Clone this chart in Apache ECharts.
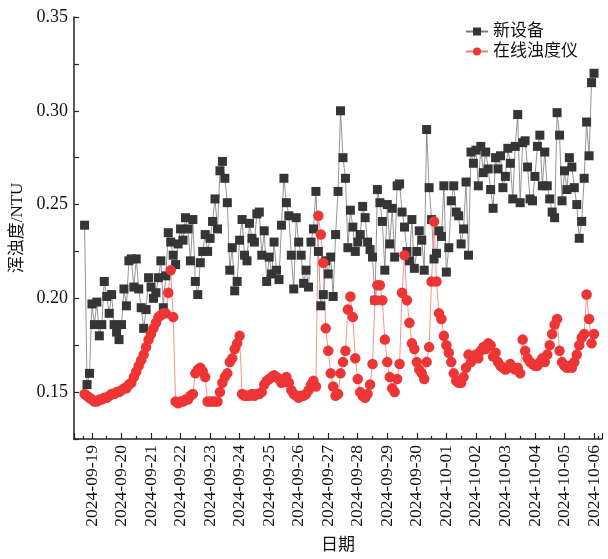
<!DOCTYPE html>
<html>
<head>
<meta charset="utf-8">
<script src="https://cdn.jsdelivr.net/npm/echarts@6/dist/echarts.min.js"></script>
<style>
html,body{margin:0;padding:0;background:#fff;}
#chart{width:608px;height:559px;}
</style>
</head>
<body>
<div id="chart"></div>
<script>
// Series names
const seriesNames = ['新设备', '在线浊度仪'];
// Sampling: first sample 2024-09-18 18:00, one sample every 2 hours
const startTime = new Date(2024, 8, 18, 18, 0).getTime();
const stepHours = 2;
// 新设备 turbidity (NTU)
const newDevice = [
0.239,0.154,0.160,0.197,0.186,0.198,0.180,0.186,0.209,0.201,0.192,0.202,
0.186,0.182,0.178,0.186,0.205,0.196,0.220,0.221,0.206,0.221,0.205,0.195,
0.184,0.194,0.211,0.206,0.200,0.203,0.211,0.220,0.195,0.212,0.235,0.230,
0.223,0.218,0.229,0.237,0.231,0.243,0.237,0.220,0.242,0.209,0.202,0.219,
0.225,0.234,0.225,0.232,0.241,0.253,0.237,0.268,0.273,0.264,0.251,0.215,
0.227,0.204,0.209,0.231,0.242,0.223,0.220,0.240,0.232,0.230,0.245,0.246,
0.223,0.236,0.209,0.222,0.213,0.230,0.215,0.210,0.239,0.264,0.251,0.244,
0.223,0.205,0.243,0.230,0.223,0.208,0.215,0.206,0.230,0.237,0.257,0.225,
0.196,0.202,0.220,0.213,0.222,0.201,0.234,0.257,0.300,0.275,0.264,0.227,
0.247,0.238,0.225,0.230,0.234,0.249,0.243,0.230,0.226,0.222,0.199,0.258,
0.251,0.241,0.215,0.250,0.229,0.248,0.222,0.260,0.261,0.246,0.238,0.225,
0.220,0.242,0.216,0.225,0.236,0.231,0.215,0.290,0.259,0.242,0.221,0.224,
0.236,0.233,0.260,0.214,0.227,0.252,0.260,0.246,0.244,0.229,0.237,0.262,
0.223,0.278,0.272,0.279,0.260,0.281,0.267,0.278,0.269,0.258,0.248,0.275,
0.269,0.276,0.259,0.265,0.280,0.272,0.253,0.281,0.298,0.251,0.283,0.284,
0.270,0.253,0.252,0.265,0.281,0.287,0.260,0.278,0.260,0.253,0.246,0.243,
0.299,0.287,0.252,0.268,0.258,0.275,0.270,0.259,0.250,0.232,0.241,0.264,
0.294,0.276,0.315,0.320
];
// 在线浊度仪 turbidity (NTU)
const onlineMeter = [
0.149,0.148,0.147,0.146,0.145,0.145,0.146,0.146,0.147,0.147,0.148,0.149,
0.149,0.150,0.150,0.151,0.152,0.152,0.154,0.155,0.158,0.161,0.164,0.167,
0.170,0.174,0.178,0.181,0.184,0.187,0.190,0.191,0.192,0.192,0.203,0.215,
0.190,0.145,0.144,0.145,0.145,0.146,0.146,0.148,0.149,0.160,0.162,0.163,
0.161,0.158,0.145,0.145,0.145,0.145,0.145,0.150,0.155,0.158,0.160,0.166,
0.168,0.173,0.176,0.180,0.149,0.148,0.148,0.148,0.149,0.148,0.149,0.149,
0.150,0.154,0.156,0.157,0.158,0.159,0.158,0.157,0.155,0.157,0.158,0.155,
0.151,0.149,0.148,0.147,0.148,0.148,0.149,0.151,0.154,0.156,0.153,0.244,
0.234,0.219,0.184,0.172,0.160,0.153,0.148,0.149,0.160,0.166,0.172,0.194,
0.201,0.190,0.168,0.157,0.150,0.148,0.147,0.149,0.154,0.165,0.199,0.207,
0.207,0.199,0.178,0.166,0.158,0.152,0.150,0.157,0.165,0.203,0.223,0.199,
0.187,0.176,0.173,0.166,0.162,0.160,0.157,0.166,0.174,0.209,0.241,0.209,
0.192,0.189,0.180,0.175,0.171,0.166,0.160,0.156,0.155,0.155,0.158,0.163,
0.170,0.166,0.168,0.170,0.168,0.172,0.174,0.173,0.176,0.175,0.169,0.171,
0.166,0.164,0.163,0.162,0.163,0.165,0.163,0.162,0.163,0.160,0.178,0.172,
0.168,0.166,0.165,0.164,0.164,0.166,0.168,0.166,0.170,0.175,0.181,0.186,
0.189,0.172,0.166,0.164,0.163,0.164,0.163,0.166,0.170,0.175,0.179,0.181,
0.202,0.189,0.176,0.181
];
// Axis ranges
const xMin = new Date(2024, 8, 18, 9, 24).getTime();
const xMax = new Date(2024, 9, 6, 6, 30).getTime();
const yMin = 0.125, yMax = 0.35, yStep = 0.025;

const stepMs = stepHours * 3600 * 1000;
const times = newDevice.map((_, i) => startTime + i * stepMs);
const pair = arr => arr.map((v, i) => [times[i], v]);

const FONT = '"Liberation Serif", "Noto Sans CJK SC", serif';
const pad = n => (n < 10 ? '0' : '') + n;

const chart = echarts.init(document.getElementById('chart'), null, {renderer: 'canvas'});
chart.setOption({
  animation: false,
  backgroundColor: '#fff',
  grid: {left: 74, right: 6, top: 17, bottom: 116},
  legend: {
    orient: 'vertical', left: 460, top: 18, itemGap: 3,
    itemWidth: 22, itemHeight: 10,
    textStyle: {fontFamily: FONT, fontSize: 17, color: '#111'},
    data: seriesNames
  },
  xAxis: {
    type: 'time', min: xMin, max: xMax,
    minInterval: 86400000, maxInterval: 86400000,
    name: '日期', nameLocation: 'middle', nameGap: 98,
    nameTextStyle: {fontFamily: FONT, fontSize: 17, color: '#111'},
    axisLine: {lineStyle: {color: '#222', width: 1.5}},
    axisTick: {inside: true, length: 6, lineStyle: {color: '#222', width: 1.2}},
    minorTick: {show: true, splitNumber: 2, length: 3, lineStyle: {color: '#222', width: 1.2}},
    splitLine: {show: false},
    axisLabel: {
      rotate: 90, margin: 6, fontFamily: FONT, fontSize: 17.5, color: '#111',
      showMinLabel: false, showMaxLabel: false,
      formatter: v => { const d = new Date(v); return d.getFullYear() + '-' + pad(d.getMonth() + 1) + '-' + pad(d.getDate()); }
    }
  },
  yAxis: {
    type: 'value', min: yMin, max: yMax, interval: yStep,
    name: '浑浊度/NTU', nameLocation: 'middle', nameGap: 44, nameRotate: 90,
    nameTextStyle: {fontFamily: FONT, fontSize: 17, color: '#111'},
    axisLine: {show: true, lineStyle: {color: '#222', width: 1.5}},
    axisTick: {show: true, inside: true, length: 5, lineStyle: {color: '#222', width: 1.2}},
    splitLine: {show: false},
    axisLabel: {
      margin: 6, fontFamily: FONT, fontSize: 18, color: '#111',
      formatter: v => (Math.abs(Math.round(v * 1000) % 50) === 0 ? v.toFixed(2) : '')
    }
  },
  series: [
    {
      name: seriesNames[0], type: 'line', data: pair(newDevice),
      symbol: 'rect', symbolSize: 9, showAllSymbol: true,
      itemStyle: {color: '#353535'},
      lineStyle: {color: '#7a7a7a', width: 0.8}
    },
    {
      name: seriesNames[1], type: 'line', data: pair(onlineMeter),
      symbol: 'circle', symbolSize: 10.5, showAllSymbol: true,
      itemStyle: {color: '#ee3535'},
      lineStyle: {color: '#f07a7a', width: 0.8}
    }
  ]
});
</script>
</body>
</html>
